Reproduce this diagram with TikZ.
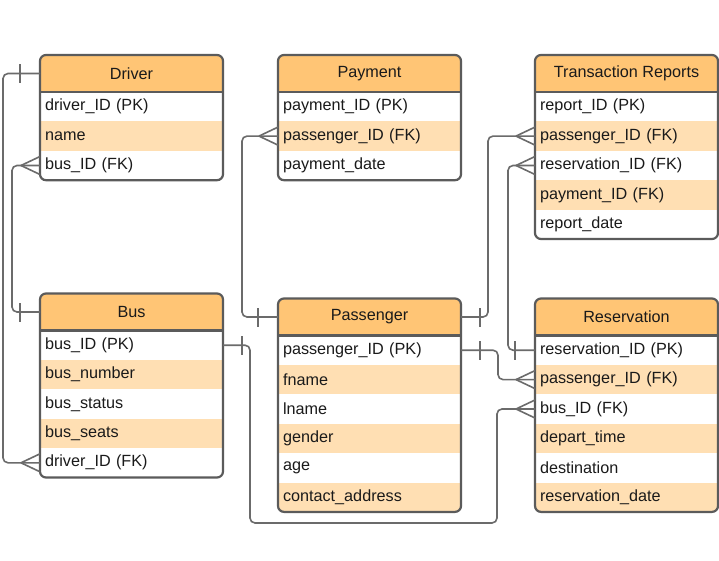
\documentclass[tikz,border=0pt]{standalone}
\usepackage{fontspec}
\setmainfont{Liberation Sans}
\usetikzlibrary{calc}
\definecolor{hdrorange}{HTML}{FFC575}
\definecolor{rowpeach}{HTML}{FFDFB3}
\definecolor{tabline}{HTML}{5B5B5B}
\definecolor{connline}{HTML}{6B6B6B}
\definecolor{txt}{HTML}{1A1A1A}
\tikzset{
 hdr/.style={anchor=north west, minimum width=183pt, minimum height=37pt, inner sep=0pt, outer sep=0pt, fill=hdrorange, text=txt, font=\fontsize{16.2}{19}\selectfont},
 rowbox/.style={anchor=north west, text width=173pt, inner xsep=5pt, inner ysep=0pt, minimum height=29.4pt, outer sep=0pt, align=left, text=txt, font=\fontsize{16.2}{19}\selectfont},
 tabborder/.style={draw=tabline, line width=2.2pt},
 conn/.style={draw=connline, line width=1.6pt, rounded corners=5pt},
 connmark/.style={draw=connline, line width=1.6pt},
}
\newcommand{\erdtab}[6]{%
 \begin{scope}
 \clip[rounded corners=6pt] (#2,#3) rectangle ++(183,{37+29.4*#4});
 \node[hdr] (#1-h) at (#2,#3) {#5};
 \foreach \t [count=\i] in {#6}{%
   \ifodd\i\def\rf{white}\else\def\rf{rowpeach}\fi
   \node[rowbox, fill=\rf] (#1-\i) at (#2,{#3+37+29.4*(\i-1)}) {\t};
 }
 \end{scope}
 \draw[tabborder] (#1-h.south west) -- (#1-h.south east);
 \draw[tabborder, rounded corners=6pt] (#2,#3) rectangle ++(183,{37+29.4*#4});
}
\newcommand{\barL}[1]{\draw[connmark] ([xshift=-20pt,yshift=-9.5pt]#1) -- ([xshift=-20pt,yshift=9.5pt]#1);}
\newcommand{\barR}[1]{\draw[connmark] ([xshift=19pt,yshift=-9.5pt]#1) -- ([xshift=19pt,yshift=9.5pt]#1);}
\newcommand{\crowL}[1]{\draw[connmark] ([yshift=9pt]#1) -- ([xshift=-19pt]#1); \draw[connmark] ([yshift=-9pt]#1) -- ([xshift=-19pt]#1);}
\begin{document}
\begin{tikzpicture}[x=1pt,y=-1pt]
\useasboundingbox[fill=white] (0,0) rectangle (719,561);

\erdtab{driver}{40}{55}{3}{Driver}{driver\_ID (PK),name,bus\_ID (FK)}
\erdtab{payment}{278}{55}{3}{Payment}{payment\_ID (PK),passenger\_ID (FK),payment\_date}
\erdtab{treport}{535}{55}{5}{Transaction Reports}{report\_ID (PK),passenger\_ID (FK),reservation\_ID (FK),payment\_ID (FK),report\_date}
\erdtab{bus}{40}{293.5}{5}{Bus}{bus\_ID (PK),bus\_number,bus\_status,bus\_seats,driver\_ID (FK)}
\erdtab{passenger}{278}{298.5}{6}{Passenger}{passenger\_ID (PK),fname,lname,gender,age,contact\_address}
\erdtab{reservation}{535}{298.5}{6}{Reservation}{reservation\_ID (PK),passenger\_ID (FK),bus\_ID (FK),depart\_time,destination,reservation\_date}

% Driver (1) -- Bus.driver_ID (many)
\draw[conn] (driver-h.west) -| ([xshift=-37pt]bus-5.west) -- (bus-5.west);
\barL{driver-h.west}
\crowL{bus-5.west}

% Bus (1) -- Driver.bus_ID (many)
\draw[conn] (driver-3.west) -| ([xshift=-28pt]bus-h.west) -- (bus-h.west);
\crowL{driver-3.west}
\barL{bus-h.west}

% Passenger (1) -- Payment.passenger_ID (many)
\draw[conn] (payment-2.west) -| ([xshift=-36pt]passenger-h.west) -- (passenger-h.west);
\crowL{payment-2.west}
\barL{passenger-h.west}

% Passenger (1) -- TransactionReports.passenger_ID (many)
\draw[conn] (passenger-h.east) -| ([xshift=-47pt]treport-2.west) -- (treport-2.west);
\barR{passenger-h.east}
\crowL{treport-2.west}

% Reservation (1) -- TransactionReports.reservation_ID (many)
\draw[conn] (treport-3.west) -| ([xshift=-27pt]reservation-1.west) -- (reservation-1.west);
\crowL{treport-3.west}
\barL{reservation-1.west}

% Passenger (1) -- Reservation.passenger_ID (many)
\draw[conn] (passenger-1.east) -| ([xshift=-37pt]reservation-2.west) -- (reservation-2.west);
\barR{passenger-1.east}
\crowL{reservation-2.west}

% Bus (1) -- Reservation.bus_ID (many)
\coordinate (busloop) at (250,523);
\draw[conn] (bus-1.east) -| (busloop) -| ([xshift=-38pt]reservation-3.west) -- (reservation-3.west);
\barR{bus-1.east}
\crowL{reservation-3.west}
\end{tikzpicture}
\end{document}
